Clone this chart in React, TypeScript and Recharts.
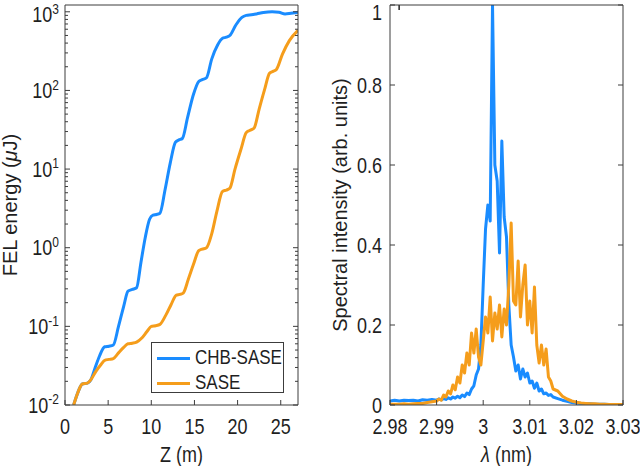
import { LineChart, Line, XAxis, YAxis } from "recharts";

const FONT = '"Liberation Sans", Arial, Helvetica, sans-serif';
const INK = "#1f1f1f";
const FRAME = "#3c3c3c";
const BLUE = "#1a8cff";
const ORANGE = "#f59d1b";
const MAJOR = 5;
const MINOR = 3;
// the source figure was stretched a little vertically, so text is too
const SY = 1.18;

// left panel: FEL energy (uJ) along the undulator
const zChb = [
  1.0, 1.5, 2.0, 2.6, 3.0, 3.5, 4.0, 4.6, 5.1, 5.6, 6.2, 6.8, 7.3, 7.8, 8.3, 8.8,
  9.3, 9.8, 10.2, 10.6, 11.0, 11.6, 12.2, 12.8, 13.2, 13.6, 14.2, 14.9, 15.5, 15.9,
  16.4, 17.0, 17.7, 18.25, 18.7, 19.1, 19.8, 20.5, 21.0, 21.6, 22.2, 23.0, 24.0,
  24.8, 25.5, 26.2, 27.0,
];
const energyChb = [
  0.01, 0.0145, 0.0185, 0.019, 0.021, 0.03, 0.042, 0.055, 0.056, 0.058, 0.1, 0.18,
  0.28, 0.295, 0.31, 0.65, 1.35, 2.3, 2.6, 2.65, 2.75, 5.5, 12, 22, 23.5, 24.5, 45,
  90, 130, 137, 145, 250, 380, 460, 475, 500, 680, 850, 900, 915, 940, 980, 1000,
  985, 940, 960, 985,
];
const zSase = [
  1.0, 1.5, 2.0, 2.6, 3.0, 3.6, 4.2, 4.6, 5.1, 5.6, 6.2, 6.8, 7.3, 7.8, 8.3, 8.9,
  9.5, 10.0, 10.5, 11.0, 11.7, 12.3, 12.9, 13.3, 13.7, 14.3, 14.9, 15.5, 15.9, 16.4,
  17.0, 17.6, 18.25, 18.7, 19.1, 19.7, 20.4, 21.0, 21.4, 21.9, 22.5, 23.1, 23.7,
  24.1, 24.5, 25.2, 26.0, 27.0,
];
const energySase = [
  0.01, 0.0145, 0.0185, 0.019, 0.021, 0.027, 0.033, 0.037, 0.038, 0.039, 0.046,
  0.054, 0.06, 0.061, 0.063, 0.071, 0.086, 0.1, 0.102, 0.106, 0.14, 0.19, 0.25,
  0.255, 0.265, 0.4, 0.62, 0.92, 0.96, 1.0, 1.5, 2.9, 5.2, 5.4, 5.7, 10, 18, 29,
  31, 33, 58, 100, 165, 175, 185, 290, 430, 580,
];
const zTicks = [0, 5, 10, 15, 20, 25];
const energyDecades = [0.01, 0.1, 1, 10, 100, 1000];

// right panel: spectra
const lambda = [
  2.98, 2.981, 2.982, 2.983, 2.984, 2.985, 2.986, 2.987, 2.988, 2.989, 2.99,
  2.9905, 2.991, 2.9915, 2.992, 2.9925, 2.993, 2.9935, 2.994, 2.9945, 2.995,
  2.9955, 2.996, 2.9965, 2.997, 2.9975, 2.998, 2.9985, 2.999, 2.9995, 3.0,
  3.0005, 3.001, 3.0015, 3.002, 3.0025, 3.003, 3.0035, 3.004, 3.0045, 3.005,
  3.0055, 3.006, 3.0065, 3.007, 3.0075, 3.008, 3.0085, 3.009, 3.0095, 3.01,
  3.0105, 3.011, 3.0115, 3.012, 3.0125, 3.013, 3.0135, 3.014, 3.0145, 3.015,
  3.016, 3.017, 3.018, 3.019, 3.02, 3.021, 3.022, 3.023, 3.024, 3.025,
  3.026, 3.027, 3.028, 3.029, 3.03,
];
const specChb = [
  0.01, 0.012, 0.01, 0.012, 0.011, 0.012, 0.01, 0.013, 0.012, 0.014, 0.012,
  0.015, 0.013, 0.016, 0.014, 0.018, 0.015, 0.02, 0.017, 0.022, 0.018,
  0.025, 0.021, 0.03, 0.026, 0.04, 0.048, 0.075, 0.09, 0.15, 0.3,
  0.44, 0.5, 0.46, 1.0, 0.6, 0.56, 0.38, 0.66, 0.47, 0.42,
  0.25, 0.15, 0.12, 0.085, 0.1, 0.065, 0.09, 0.07, 0.08, 0.055,
  0.06, 0.042, 0.055, 0.035, 0.04, 0.028, 0.03, 0.024, 0.026, 0.02,
  0.016, 0.012, 0.009, 0.006, 0.005, 0.004, 0.003, 0.003, 0.002, 0.002,
  0.002, 0.001, 0.001, 0.001, 0.001,
];
const specSase = [
  0.002, 0.002, 0.002, 0.003, 0.002, 0.003, 0.004, 0.004, 0.006, 0.008, 0.01,
  0.015, 0.012, 0.025, 0.02, 0.035, 0.028, 0.05, 0.038, 0.07, 0.055,
  0.1, 0.08, 0.13, 0.1, 0.18, 0.13, 0.19, 0.12, 0.1, 0.16,
  0.22, 0.18, 0.27, 0.16, 0.23, 0.19, 0.25, 0.17, 0.24, 0.2,
  0.3, 0.455, 0.26, 0.25, 0.36, 0.22, 0.3, 0.35, 0.2, 0.26,
  0.18, 0.295, 0.15, 0.105, 0.15, 0.1, 0.14, 0.07, 0.06, 0.04,
  0.035, 0.022, 0.015, 0.01, 0.007, 0.005, 0.004, 0.003, 0.003, 0.002,
  0.002, 0.001, 0.001, 0.001, 0.001,
];
const lambdaTicks = [2.98, 2.99, 3, 3.01, 3.02, 3.03];
const specTicks = [0, 0.2, 0.4, 0.6, 0.8, 1];

const series = [
  { name: "CHB-SASE", color: BLUE },
  { name: "SASE", color: ORANGE },
];

const chbEnergyData = zChb.map((z, i) => ({ z, e: energyChb[i] }));
const saseEnergyData = zSase.map((z, i) => ({ z, e: energySase[i] }));
const specData = lambda.map((l, i) => ({ l, chb: specChb[i], sase: specSase[i] }));

// major decades plus the 2..9 minor ticks matlab draws on a log axis
const energyTicks = energyDecades.flatMap((d, i) =>
  i === energyDecades.length - 1 ? [d] : [1, 2, 3, 4, 5, 6, 7, 8, 9].map((k) => +(k * d).toPrecision(3))
);

const isDecade = (v: number) => {
  const e = Math.log10(v);
  return Math.abs(e - Math.round(e)) < 1e-6;
};

const txt = { fill: INK, fontSize: 18, fontFamily: FONT };

// horizontal text, stretched vertically around its baseline
function SText({ x, y, children, ...rest }: any) {
  return (
    <text transform={`translate(${x} ${y}) scale(1 ${SY})`} x={0} y={0} {...txt} {...rest}>
      {children}
    </text>
  );
}

function EnergyTick({ x, y, payload }: any) {
  const v = payload.value;
  const major = isDecade(v);
  const edge = x + 6;
  return (
    <g>
      <line x1={edge} x2={edge + (major ? MAJOR : MINOR)} y1={y} y2={y} stroke={FRAME} />
      {major && (
        <SText x={x} y={Math.max(y + 7.5, 22)} textAnchor="end">
          10
          <tspan dy={-7} fontSize={12}>
            {Math.round(Math.log10(v))}
          </tspan>
        </SText>
      )}
    </g>
  );
}

function EnergyMirrorTick({ x, y, payload }: any) {
  const len = isDecade(payload.value) ? MAJOR : MINOR;
  return <line x1={x} x2={x - len} y1={y} y2={y} stroke={FRAME} />;
}

function LeftTick({ x, y, payload }: any) {
  const edge = x + 8;
  return (
    <g>
      <line x1={edge} x2={edge + MAJOR} y1={y} y2={y} stroke={FRAME} />
      <SText x={x} y={Math.max(y + 7.5, 20)} textAnchor="end">
        {String(payload.value)}
      </SText>
    </g>
  );
}

function RightTick({ x, y }: any) {
  return <line x1={x} x2={x - MAJOR} y1={y} y2={y} stroke={FRAME} />;
}

function BottomTick({ x, y, payload }: any) {
  return (
    <g>
      <line x1={x} x2={x} y1={y} y2={y - MAJOR} stroke={FRAME} />
      <SText x={x} y={y + 29} textAnchor="middle">
        {String(payload.value)}
      </SText>
    </g>
  );
}

function TopTick({ x, y }: any) {
  return <line x1={x} x2={x} y1={y} y2={y + MAJOR} stroke={FRAME} />;
}

function XLabel({ viewBox, children }: any) {
  return (
    <SText x={viewBox.x + viewBox.width / 2} y={viewBox.y + 57} textAnchor="middle">
      {children}
    </SText>
  );
}

function YLabel({ viewBox, base, children }: any) {
  const cx = viewBox.x + base;
  const cy = viewBox.y + viewBox.height / 2;
  return (
    <text x={cx} y={cy} textAnchor="middle" transform={`rotate(-90, ${cx}, ${cy})`} {...txt} fontSize={20}>
      {children}
    </text>
  );
}

const frame = { stroke: FRAME };

export default function App() {
  return (
    <div style={{ position: "absolute", left: 0, top: 0, width: 640, height: 466, display: "flex", background: "#fff" }}>
      <div style={{ position: "relative", width: 320, height: 466 }}>
        <LineChart width={320} height={466} margin={{ top: 0, right: 0, bottom: 0, left: 0 }}>
          <XAxis
            xAxisId="b"
            dataKey="z"
            type="number"
            domain={[0, 27]}
            ticks={zTicks}
            interval={0}
            allowDataOverflow
            height={61}
            tickSize={0}
            tickMargin={0}
            tickLine={false}
            axisLine={frame}
            tick={<BottomTick />}
            label={<XLabel>Z (m)</XLabel>}
          />
          <XAxis
            xAxisId="t"
            orientation="top"
            type="number"
            domain={[0, 27]}
            ticks={zTicks}
            interval={0}
            allowDataOverflow
            height={5}
            tickSize={0}
            tickMargin={0}
            tickLine={false}
            axisLine={frame}
            tick={<TopTick />}
          />
          <YAxis
            yAxisId="l"
            type="number"
            scale="log"
            domain={[0.01, 1220]}
            ticks={energyTicks}
            interval={0}
            allowDataOverflow
            width={65}
            tickSize={0}
            tickMargin={6}
            tickLine={false}
            axisLine={frame}
            tick={<EnergyTick />}
            label={
              <YLabel base={17}>
                FEL energy (<tspan fontStyle="italic">μ</tspan>J)
              </YLabel>
            }
          />
          <YAxis
            yAxisId="r"
            orientation="right"
            type="number"
            scale="log"
            domain={[0.01, 1220]}
            ticks={energyTicks}
            interval={0}
            allowDataOverflow
            width={22}
            tickSize={0}
            tickMargin={0}
            tickLine={false}
            axisLine={frame}
            tick={<EnergyMirrorTick />}
          />
          <Line
            xAxisId="b"
            yAxisId="l"
            data={chbEnergyData}
            dataKey="e"
            name="CHB-SASE"
            type="monotone"
            stroke={BLUE}
            strokeWidth={3}
            dot={false}
            isAnimationActive={false}
          />
          <Line
            xAxisId="b"
            yAxisId="l"
            data={saseEnergyData}
            dataKey="e"
            name="SASE"
            type="monotone"
            stroke={ORANGE}
            strokeWidth={3}
            dot={false}
            isAnimationActive={false}
          />
        </LineChart>
        {/* legend box, lower right of the energy panel */}
        <div
          style={{
            position: "absolute",
            left: 151,
            top: 342,
            width: 131,
            height: 49,
            border: `1px solid ${FRAME}`,
            background: "#fff",
            fontFamily: FONT,
            fontSize: 17,
            color: INK,
          }}
        >
          {series.map((s, i) => (
            <div
              key={s.name}
              style={{ position: "absolute", left: 5, top: 4 + i * 25, height: 22, display: "flex", alignItems: "center" }}
            >
              <span style={{ display: "inline-block", width: 33, height: 3, background: s.color, marginRight: 5 }} />
              <span style={{ display: "inline-block", transform: `scaleY(${SY})` }}>{s.name}</span>
            </div>
          ))}
        </div>
      </div>

      <div style={{ position: "relative", width: 320, height: 466 }}>
        <LineChart width={320} height={466} data={specData} margin={{ top: 0, right: 0, bottom: 0, left: 0 }}>
          <XAxis
            xAxisId="b"
            dataKey="l"
            type="number"
            domain={[2.98, 3.03]}
            ticks={lambdaTicks}
            interval={0}
            allowDataOverflow
            height={61}
            tickSize={0}
            tickMargin={0}
            tickLine={false}
            axisLine={frame}
            tick={<BottomTick />}
            label={
              <XLabel>
                <tspan fontStyle="italic">λ</tspan> (nm)
              </XLabel>
            }
          />
          <XAxis
            xAxisId="t"
            orientation="top"
            type="number"
            domain={[2.98, 3.03]}
            ticks={lambdaTicks}
            interval={0}
            allowDataOverflow
            height={5}
            tickSize={0}
            tickMargin={0}
            tickLine={false}
            axisLine={frame}
            tick={<TopTick />}
          />
          <YAxis
            yAxisId="l"
            type="number"
            domain={[0, 1]}
            ticks={specTicks}
            interval={0}
            allowDataOverflow
            width={70}
            tickSize={0}
            tickMargin={8}
            tickLine={false}
            axisLine={frame}
            tick={<LeftTick />}
            label={<YLabel base={27}>Spectral intensity (arb. units)</YLabel>}
          />
          <YAxis
            yAxisId="r"
            orientation="right"
            type="number"
            domain={[0, 1]}
            ticks={specTicks}
            interval={0}
            allowDataOverflow
            width={17}
            tickSize={0}
            tickMargin={0}
            tickLine={false}
            axisLine={frame}
            tick={<RightTick />}
          />
          <Line
            xAxisId="b"
            yAxisId="l"
            dataKey="chb"
            name="CHB-SASE"
            type="linear"
            stroke={BLUE}
            strokeWidth={3}
            strokeLinejoin="round"
            dot={false}
            isAnimationActive={false}
          />
          <Line
            xAxisId="b"
            yAxisId="l"
            dataKey="sase"
            name="SASE"
            type="linear"
            stroke={ORANGE}
            strokeWidth={3}
            strokeLinejoin="round"
            dot={false}
            isAnimationActive={false}
          />
        </LineChart>
      </div>
    </div>
  );
}
